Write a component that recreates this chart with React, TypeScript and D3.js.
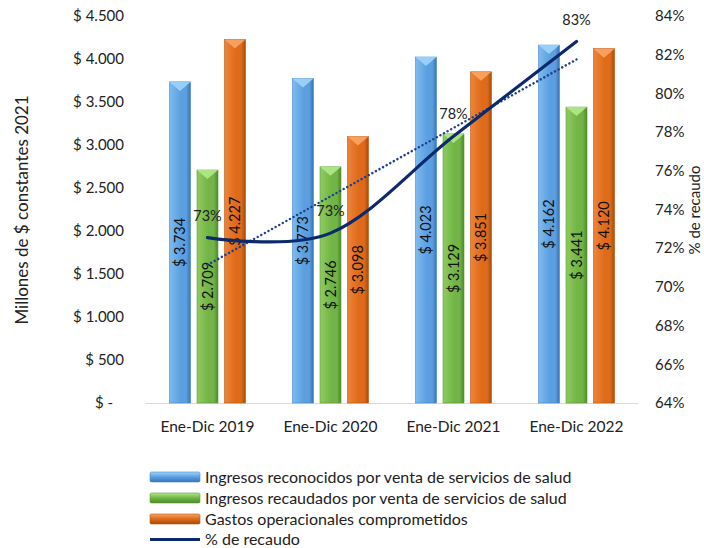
import React from "react";
import * as d3 from "d3";

const categories = ["Ene-Dic 2019", "Ene-Dic 2020", "Ene-Dic 2021", "Ene-Dic 2022"];
const seriesNames = [
  "Ingresos reconocidos por venta de servicios de salud",
  "Ingresos recaudados por venta de servicios de salud",
  "Gastos operacionales comprometidos",
];
const reconocidos = [3734, 3773, 4023, 4162];
const recaudados = [2709, 2746, 3129, 3441];
const gastos = [4227, 3098, 3851, 4120];
const pctRecaudo = [0.7255, 0.7278, 0.7778, 0.8268];
const pctLabels = ["73%", "73%", "78%", "83%"];
const lineName = "% de recaudo";
const leftTicks = [0, 500, 1000, 1500, 2000, 2500, 3000, 3500, 4000, 4500];
const rightTicks = [0.64, 0.66, 0.68, 0.7, 0.72, 0.74, 0.76, 0.78, 0.8, 0.82, 0.84];

const W = 704;
const H = 548;
const FONT = "Lato, 'Open Sans', sans-serif";

const palettes = [
  { id: "blue", light: "#7dbcf0", main: "#5b9fe0", dark: "#3673b5", tri: "#9fd4fb", border: "#4a86c6" },
  { id: "green", light: "#8fcc60", main: "#72b446", dark: "#4b8a2a", tri: "#b2e98a", border: "#5d9a37" },
  { id: "orange", light: "#ee8438", main: "#de6a1a", dark: "#a44c0c", tri: "#f9a564", border: "#b9560f" },
];

const locale = d3.formatLocale({ decimal: ",", thousands: ".", grouping: [3], currency: ["$", ""] });
const fmtNum = locale.format(",.0f");
const fmtMoney = (v: number) => (v === 0 ? "$ -" : "$ " + fmtNum(v));
const fmtPct = d3.format(".0%");

export default function App() {
  const x0 = d3.scaleBand<string>().domain(categories).range([146, 638]);
  const x1 = d3.scaleBand<number>().domain([0, 1, 2]).range([-38, 38]).paddingInner(0.236);
  const yL = d3.scaleLinear().domain([0, 4500]).range([403, 16]);
  const yR = d3.scaleLinear().domain([0.64, 0.84]).range([403, 16]);
  const data = [reconocidos, recaudados, gastos];

  const cx = (c: string) => (x0(c) ?? 0) + x0.bandwidth() / 2;

  const pts: [number, number][] = categories.map((c, i) => [cx(c), yR(pctRecaudo[i])]);
  const line = d3.line().curve(d3.curveCardinal.tension(0))(pts) ?? "";

  // linear trend (least squares) of the % series
  const n = pctRecaudo.length;
  const idx = d3.range(n);
  const mx = d3.mean(idx) ?? 0;
  const my = d3.mean(pctRecaudo) ?? 0;
  const slope =
    d3.sum(idx, (i) => (i - mx) * (pctRecaudo[i] - my)) / d3.sum(idx, (i) => (i - mx) * (i - mx));
  const icpt = my - slope * mx;
  const trend: [number, number][] = [
    [cx(categories[0]), yR(icpt)],
    [cx(categories[n - 1]), yR(icpt + slope * (n - 1))],
  ];

  const bw = x1.bandwidth();

  return (
    <svg width={W} height={H} style={{ display: "block", position: "absolute", left: 0, top: 0 }} fontFamily={FONT}>
      <defs>
        {palettes.map((p) => (
          <linearGradient key={p.id} id={"g-" + p.id} x1="0" x2="1" y1="0" y2="0">
            <stop offset="0" stopColor={p.light} />
            <stop offset="0.55" stopColor={p.main} />
            <stop offset="0.8" stopColor={p.main} />
            <stop offset="1" stopColor={p.dark} />
          </linearGradient>
        ))}
        {palettes.map((p) => (
          <linearGradient key={p.id + "v"} id={"gv-" + p.id} x1="0" x2="0" y1="0" y2="1">
            <stop offset="0" stopColor={p.tri} />
            <stop offset="0.5" stopColor={p.main} />
            <stop offset="1" stopColor={p.dark} />
          </linearGradient>
        ))}
      </defs>
      <rect width={W} height={H} fill="#ffffff" />

      {/* baseline */}
      <line x1={145} x2={638} y1={yL(0) + 0.5} y2={yL(0) + 0.5} stroke="#d9d9d9" strokeWidth={1} />

      {/* left axis labels */}
      {leftTicks.map((t) => (
        <text
          key={"l" + t}
          x={t === 0 ? 113 : 124}
          y={yL(t)}
          dy="0.35em"
          textAnchor="end"
          fontSize={15}
          fill="#222"
        >
          {fmtMoney(t)}
        </text>
      ))}
      {/* right axis labels */}
      {rightTicks.map((t) => (
        <text key={"r" + t} x={655} y={yR(t)} dy="0.35em" textAnchor="start" fontSize={15} fill="#222">
          {fmtPct(t)}
        </text>
      ))}

      {/* axis titles */}
      <text
        transform={`translate(22,${210}) rotate(-90)`}
        textAnchor="middle"
        dy="0.35em"
        fontSize={17}
        fill="#222"
      >
        Millones de $ constantes 2021
      </text>
      <text
        transform={`translate(695,${210}) rotate(-90)`}
        textAnchor="middle"
        dy="0.35em"
        fontSize={15}
        fill="#222"
      >
        {lineName}
      </text>

      {/* category labels */}
      {categories.map((c) => (
        <text key={c} x={cx(c)} y={427} dy="0.35em" textAnchor="middle" fontSize={15.5} fill="#222">
          {c}
        </text>
      ))}

      {/* bars */}
      {categories.map((c, ci) =>
        data.map((vals, si) => {
          const p = palettes[si];
          const bx = cx(c) + (x1(si) ?? 0);
          const by = yL(vals[ci]);
          const bh = yL(0) - by;
          return (
            <g key={c + si}>
              <rect x={bx} y={by} width={bw} height={bh} fill={`url(#g-${p.id})`} stroke={p.border} strokeWidth={0.6} />
              <path
                d={`M${bx},${by} L${bx + bw},${by} L${bx + bw / 2},${by + 9} Z`}
                fill={p.tri}
                opacity={0.9}
              />
            </g>
          );
        })
      )}

      {/* bar value labels */}
      {categories.map((c, ci) =>
        data.map((vals, si) => {
          const bx = cx(c) + (x1(si) ?? 0) + bw / 2;
          const my2 = (yL(vals[ci]) + yL(0)) / 2;
          return (
            <text
              key={"t" + c + si}
              transform={`translate(${bx},${my2}) rotate(-90)`}
              textAnchor="middle"
              dy="0.35em"
              fontSize={14.5}
              fill="#111"
            >
              {fmtMoney(vals[ci])}
            </text>
          );
        })
      )}

      {/* trend line */}
      <line
        x1={trend[0][0]}
        y1={trend[0][1]}
        x2={trend[1][0]}
        y2={trend[1][1]}
        stroke="#1f3f8f"
        strokeWidth={2.4}
        strokeDasharray="0.1 4"
        strokeLinecap="round"
      />

      {/* % line */}
      <path d={line} fill="none" stroke="#0c2a6b" strokeWidth={3.2} strokeLinecap="round" />

      {/* % labels */}
      {pts.map((p, i) => (
        <text key={"p" + i} x={p[0]} y={p[1] - 22} dy="0.35em" textAnchor="middle" fontSize={14.5} fill="#222">
          {pctLabels[i]}
        </text>
      ))}

      {/* legend */}
      {seriesNames.map((s, i) => {
        const ly = 477 + i * 21;
        const p = palettes[i];
        return (
          <g key={s}>
            <rect x={150} y={ly - 5} width={50} height={10} rx={1.5} fill={`url(#gv-${p.id})`} stroke={p.border} strokeWidth={0.6} />
            <text x={205} y={ly} dy="0.35em" fontSize={16} fill="#222">
              {s}
            </text>
          </g>
        );
      })}
      <line x1={150} x2={200} y1={539.5} y2={539.5} stroke="#0c2a6b" strokeWidth={3} />
      <text x={205} y={539.5} dy="0.35em" fontSize={16} fill="#222">
        {lineName}
      </text>
    </svg>
  );
}
